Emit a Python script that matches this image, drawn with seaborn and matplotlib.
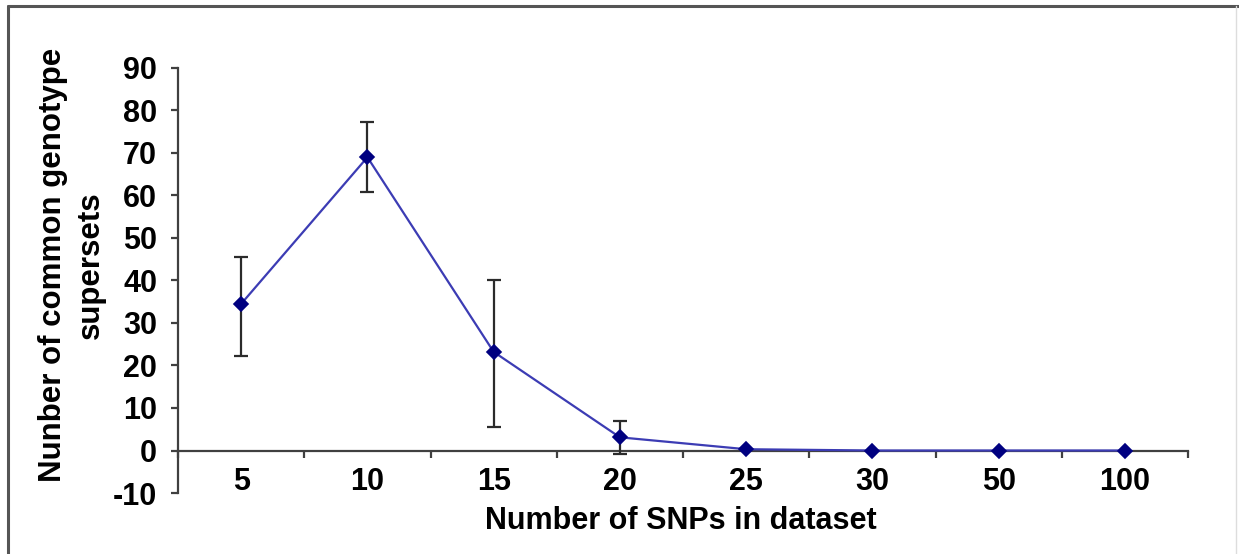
import matplotlib
matplotlib.use("Agg")
import matplotlib.pyplot as plt
from matplotlib.lines import Line2D
import numpy as np
import pandas as pd
import seaborn as sns

# ---- data ----
snp_counts = ["5", "10", "15", "20", "25", "30", "50", "100"]
mean_supersets = [34.5, 69.0, 23.2, 3.1, 0.3, 0.0, 0.0, 0.0]
err_low = [22.3, 60.8, 5.5, -0.8, 0.0, 0.0, 0.0, 0.0]
err_high = [45.6, 77.3, 40.1, 7.0, 0.0, 0.0, 0.0, 0.0]
y_ticks = [-10, 0, 10, 20, 30, 40, 50, 60, 70, 80, 90]

sns.set_theme(style="white")
plt.rcParams["font.family"] = ["Liberation Sans", "DejaVu Sans"]
plt.rcParams["font.weight"] = "bold"

df = pd.DataFrame({"snps": snp_counts, "mean": mean_supersets})

fig = plt.figure(figsize=(12.39, 5.54), dpi=100)
ax = fig.add_axes([0.1437, 0.1101, 0.8152, 0.7672])

line_color = "#3c3cb4"
marker_color = "#000080"
err_color = "#2b2b2b"

sns.pointplot(data=df, x="snps", y="mean", order=snp_counts, color=line_color,
              markers="D", linestyles="-", errorbar=None, ax=ax,
              markersize=7, linewidth=1.6, zorder=4)
for ln in ax.lines:
    ln.set_markerfacecolor(marker_color)
    ln.set_markeredgecolor(marker_color)
    ln.set_zorder(5)

pos = np.arange(len(snp_counts))
mean_arr = np.array(mean_supersets)
yerr = np.vstack([mean_arr - np.array(err_low), np.array(err_high) - mean_arr])
has_err = (yerr.sum(axis=0) > 0)
ax.errorbar(pos[has_err], mean_arr[has_err], yerr=yerr[:, has_err], fmt="none",
            ecolor=err_color, elinewidth=1.6, capsize=4.7, capthick=1.6, zorder=4)

ax.set_xlim(-0.5, len(snp_counts) - 0.5)
ax.set_ylim(-10, 90)
ax.set_yticks(y_ticks)
ax.set_yticklabels([str(v) for v in y_ticks])

# x axis drawn at y = 0, Excel-style ticks between categories
ax.spines["bottom"].set_position(("data", 0))
ax.spines["top"].set_visible(False)
ax.spines["right"].set_visible(False)
for s in ("left", "bottom"):
    ax.spines[s].set_color("#404040")
    ax.spines[s].set_linewidth(1.6)
ax.spines["bottom"].set_zorder(3)

ax.set_xticks(pos)
ax.set_xticklabels(snp_counts)
ax.set_xticks(np.arange(len(snp_counts) + 1) - 0.5, minor=True)
ax.tick_params(axis="x", which="major", length=0, pad=12, labelsize=22,
               labelcolor="black")
ax.tick_params(axis="x", which="minor", bottom=True, direction="out", length=5,
               width=1.6, color="#404040")
ax.tick_params(axis="y", which="major", left=True, direction="out", length=5,
               width=1.6, color="#404040", pad=10, labelsize=22,
               labelcolor="black")
for lab in ax.get_xticklabels() + ax.get_yticklabels():
    lab.set_fontweight("bold")

ax.set_xlabel("Number of SNPs in dataset", fontsize=22, fontweight="bold",
              color="black")
ax.xaxis.label.set_va("center")
ax.xaxis.set_label_coords(0.498, -0.066)

ax.set_ylabel("Nunber of common genotype\nsupersets", fontsize=22.5,
              fontweight="bold", color="black", linespacing=1.35)
ax.yaxis.label.set_va("center")
ax.yaxis.label.set_ha("center")
ax.yaxis.set_label_coords(-0.105, 0.536)

ax.grid(False)

# figure frame
W, H = 1239.0, 554.0
fig.add_artist(Line2D([8 / W, 1.0], [1 - 6 / H, 1 - 6 / H], color="#555555",
                      linewidth=2.2, transform=fig.transFigure))
fig.add_artist(Line2D([8 / W, 8 / W], [0.0, 1 - 6 / H], color="#555555",
                      linewidth=2.2, transform=fig.transFigure))
fig.add_artist(Line2D([1236 / W, 1236 / W], [0.0, 1 - 6 / H], color="#dddddd",
                      linewidth=1.0, transform=fig.transFigure))

fig.savefig("out.png", dpi=100, facecolor="white")
